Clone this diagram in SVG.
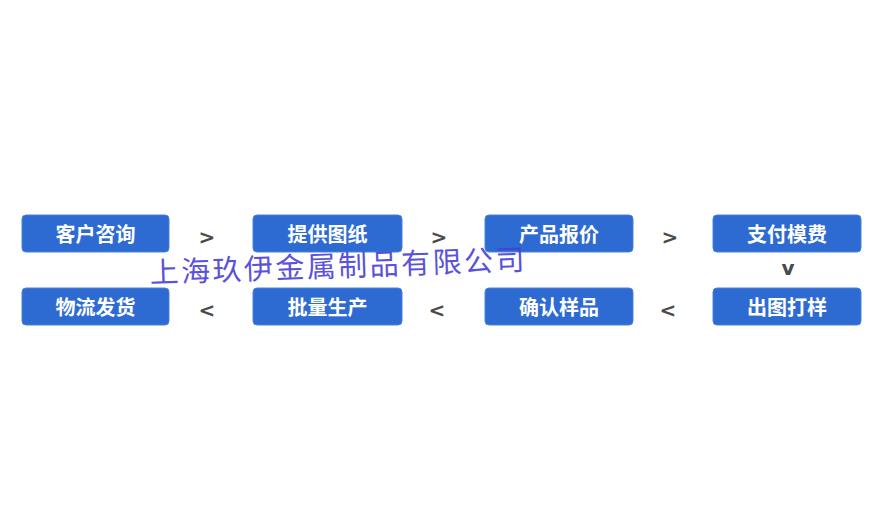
<svg xmlns="http://www.w3.org/2000/svg" width="880" height="528" viewBox="0 0 880 528">
<style>
.box rect{fill:#2d6bd2;stroke:#4a82dc;stroke-width:1}
.box text{fill:#fff;font-family:"Noto Sans CJK SC",sans-serif;font-size:20px;font-weight:bold;text-anchor:middle}
.sym{fill:#4a4a4a;font-family:"DejaVu Sans",sans-serif;font-size:20px;font-weight:bold;text-anchor:middle}
.wm{fill:#4a3fd6;font-family:"Noto Sans CJK SC",serif;font-size:29px;opacity:0.9}
</style>
<rect width="880" height="528" fill="#fff"/>
<g id="n1" class="box"><rect x="22" y="215" width="147" height="37" rx="4"/><text x="95.5" y="242">客户咨询</text></g>
<g id="n2" class="box"><rect x="253" y="215" width="149" height="37" rx="4"/><text x="327.5" y="242">提供图纸</text></g>
<g id="n3" class="box"><rect x="485" y="215" width="148" height="37" rx="4"/><text x="559" y="242">产品报价</text></g>
<g id="n4" class="box"><rect x="713" y="215" width="148" height="37" rx="4"/><text x="787" y="242">支付模费</text></g>
<g id="n5" class="box"><rect x="713" y="288" width="148" height="37" rx="4"/><text x="787" y="315">出图打样</text></g>
<g id="n6" class="box"><rect x="485" y="288" width="148" height="37" rx="4"/><text x="559" y="315">确认样品</text></g>
<g id="n7" class="box"><rect x="253" y="288" width="149" height="37" rx="4"/><text x="327.5" y="315">批量生产</text></g>
<g id="n8" class="box"><rect x="22" y="288" width="147" height="37" rx="4"/><text x="95.5" y="315">物流发货</text></g>
<g id="connectors">
<text class="sym" x="207" y="244">&gt;</text>
<text class="sym" x="439" y="244">&gt;</text>
<text class="sym" x="670" y="244">&gt;</text>
<text class="sym" x="788" y="275">v</text>
<text class="sym" x="668" y="317">&lt;</text>
<text class="sym" x="437" y="317">&lt;</text>
<text class="sym" x="207" y="317">&lt;</text>
</g>
<text class="wm" x="150" y="283" transform="rotate(-2 150 283)" textLength="375">上海玖伊金属制品有限公司</text>
</svg>
